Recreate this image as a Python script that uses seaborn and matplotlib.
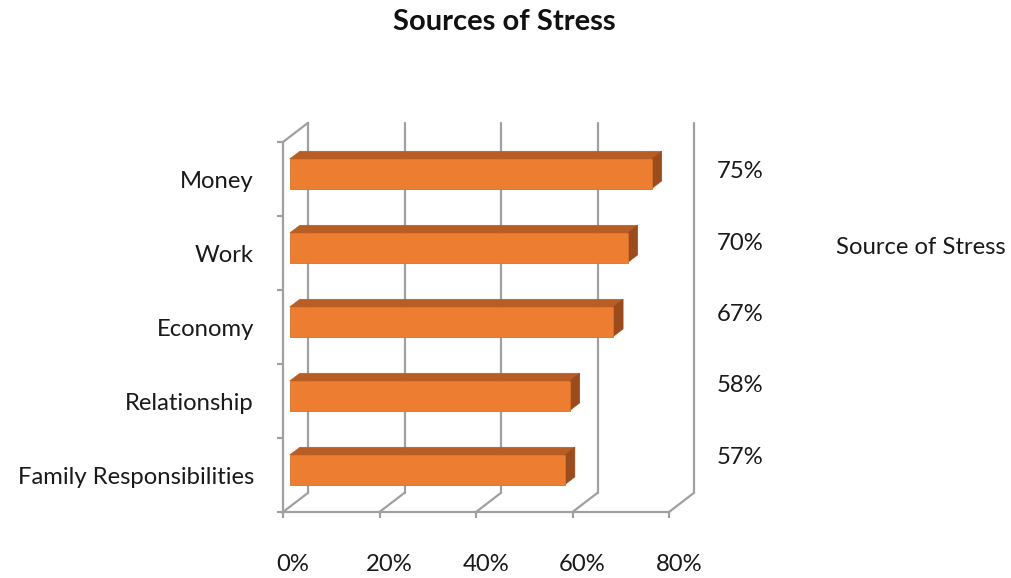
import matplotlib
matplotlib.use("Agg")
import matplotlib.pyplot as plt
import matplotlib.transforms as mtransforms
from matplotlib.patches import Polygon
import seaborn as sns
import pandas as pd

# ---- data ----
categories = ["Money", "Work", "Economy", "Relationship", "Family Responsibilities"]
values = [75, 70, 67, 58, 57]
value_labels = ["75%", "70%", "67%", "58%", "57%"]
x_ticks = [0, 20, 40, 60, 80]
x_tick_labels = ["0%", "20%", "40%", "60%", "80%"]
series_name = "Source of Stress"
title = "Sources of Stress"

sns.set_theme(style="white")
FONT = ["Lato", "DejaVu Sans"]
plt.rcParams["font.family"] = FONT

W, H = 1011, 578
fig = plt.figure(figsize=(W / 100, H / 100), dpi=100)
ax = fig.add_axes([283 / W, 1 - 512 / H, (669 - 283) / W, (512 - 142) / H])

df = pd.DataFrame({"category": categories, "value": values})
FRONT = "#ED7D31"
TOP = "#B85E25"
SIDE = "#9A4C1C"
GRID = "#a0a0a0"
LW = 1.6
FS = 17.2
TXT = "#1a1a1a"

sns.barplot(data=df, x="value", y="category", orient="h", color=FRONT,
            width=0.4, saturation=1, ax=ax, edgecolor="#D9712B", linewidth=0.6)

ax.set_xlim(0, 80)
ax.set_ylim(len(categories) - 0.5, -0.5)

# 3D depth (full wall depth), in data units
DX, DY = 5.2, 0.26
bar_off = 0.27      # bar front face position within depth
bar_depth = 0.4     # bar thickness as fraction of depth

for p in ax.patches[:len(values)]:
    p.set_x(p.get_x() + DX * bar_off)
    p.set_y(p.get_y() - DY * bar_off)
    x0 = p.get_x()
    w = p.get_width()
    yt = p.get_y()
    yb = yt + p.get_height()
    bdx, bdy = DX * bar_depth, DY * bar_depth
    top = Polygon([(x0, yt), (x0 + w, yt), (x0 + w + bdx, yt - bdy), (x0 + bdx, yt - bdy)],
                  closed=True, facecolor=TOP, edgecolor=TOP, linewidth=0.5, zorder=3)
    side = Polygon([(x0 + w, yt), (x0 + w + bdx, yt - bdy), (x0 + w + bdx, yb - bdy), (x0 + w, yb)],
                   closed=True, facecolor=SIDE, edgecolor=SIDE, linewidth=0.5, zorder=3)
    ax.add_patch(top)
    ax.add_patch(side)
    p.set_zorder(4)

# walls / floor
ylo, yhi = len(categories) - 0.5, -0.5
for t in x_ticks:
    ax.plot([t + DX, t + DX], [ylo - DY, yhi - DY], color=GRID, lw=LW, clip_on=False, zorder=1)
    ax.plot([t, t + DX], [ylo, ylo - DY], color=GRID, lw=LW, clip_on=False, zorder=1)
ax.plot([0, DX], [yhi, yhi - DY], color=GRID, lw=LW, clip_on=False, zorder=1)

for s in ["top", "right"]:
    ax.spines[s].set_visible(False)
for s in ["left", "bottom"]:
    ax.spines[s].set_color(GRID)
    ax.spines[s].set_linewidth(LW)

ax.set_xlabel("")
ax.set_ylabel("")
ax.set_xticks(x_ticks)
ax.set_xticklabels(x_tick_labels, fontsize=FS, color=TXT)
ax.tick_params(axis="x", direction="out", length=4, width=LW, color=GRID, pad=26, bottom=True)
off = mtransforms.ScaledTranslation(10 / 100, 0, fig.dpi_scale_trans)
for lab in ax.get_xticklabels():
    lab.set_transform(lab.get_transform() + off)

ax.set_yticks(range(len(categories)))
ax.set_yticklabels(categories, fontsize=FS, color=TXT)
ax.tick_params(axis="y", length=0, pad=21)
ax.set_yticks([i - 0.5 for i in range(len(categories) + 1)], minor=True)
ax.tick_params(axis="y", which="minor", direction="out", length=4, width=LW, color=GRID, left=True)

# data labels
for i, lab in enumerate(value_labels):
    ax.text(94.8, i - 0.10 - 0.035 * i, lab, ha="center", va="center", fontsize=FS, color=TXT,
            clip_on=False)

fig.text(921 / W, 1 - 248 / H, series_name, ha="center", va="center", fontsize=FS, color=TXT)
fig.text(504 / W, 1 - 22 / H, title, ha="center", va="center", fontsize=21, fontweight="bold",
         color="#111111")

fig.savefig("out.png", dpi=100)
